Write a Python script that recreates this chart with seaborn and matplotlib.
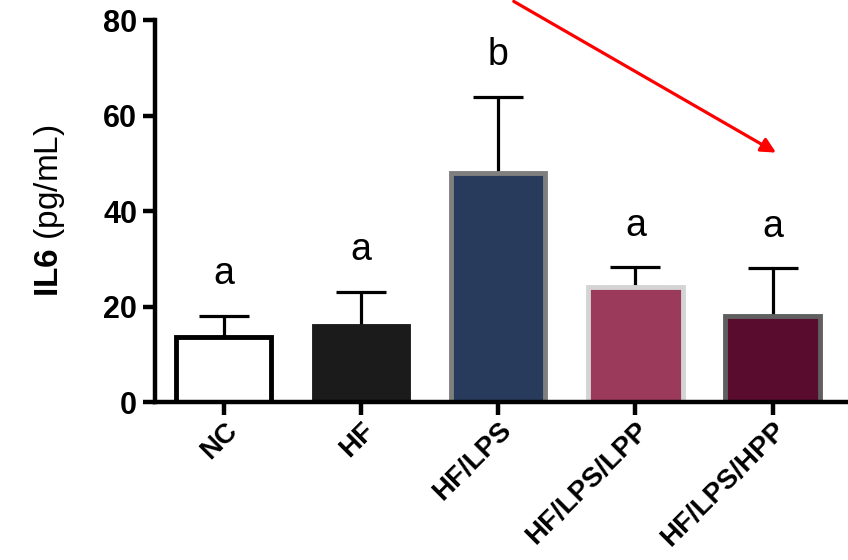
import numpy as np
import pandas as pd
import matplotlib
matplotlib.use("Agg")
import matplotlib.pyplot as plt
import seaborn as sns

groups = ["NC", "HF", "HF/LPS", "HF/LPS/LPP", "HF/LPS/HPP"]
il6_mean = [13.6, 16.0, 48.0, 24.2, 18.0]
il6_sd = [4.4, 7.0, 16.0, 4.0, 10.0]
letters = ["a", "a", "b", "a", "a"]

fill_colors = ["#ffffff", "#1b1b1b", "#293b5c", "#9c3a5b", "#590c2e"]
edge_colors = ["#000000", "#1b1b1b", "#7f7f7f", "#d4d4d4", "#5f5f5f"]

df = pd.DataFrame({"group": groups, "il6": il6_mean})

sns.set_style("white")
plt.rcParams["font.family"] = ["Liberation Sans", "DejaVu Sans"]
plt.rcParams["mathtext.fontset"] = "custom"
plt.rcParams["mathtext.rm"] = "Liberation Sans"
plt.rcParams["mathtext.bf"] = "Liberation Sans:bold"
for key in ["text.color", "axes.labelcolor", "xtick.color", "ytick.color"]:
    plt.rcParams[key] = "black"

fig = plt.figure(figsize=(8.48, 5.6), dpi=100)
ax = fig.add_axes([0.183, 0.282, 0.817, 0.682])

sns.barplot(data=df, x="group", y="il6", order=groups, width=0.69,
            errorbar=None, ax=ax)

for patch, fc, ec in zip(ax.patches, fill_colors, edge_colors):
    patch.set_facecolor(fc)
    patch.set_edgecolor(ec)
    patch.set_linewidth(3.5)
    patch.set_zorder(2)

x = np.arange(len(groups))
ax.errorbar(x, il6_mean, yerr=[np.zeros(len(groups)), il6_sd], fmt="none",
            ecolor="black", elinewidth=2.3, capsize=18, capthick=2.3, zorder=1)

for xi, m, s, lab in zip(x, il6_mean, il6_sd, letters):
    ax.text(xi, m + s + 5.0, lab, ha="center", va="bottom", fontsize=27)

ax.set_ylim(0, 80)
ax.set_xlim(-0.5, 4.55)
ax.set_yticks([0, 20, 40, 60, 80])
ax.set_yticklabels(["0", "20", "40", "60", "80"], fontsize=22, fontweight="bold")
ax.set_xticks(x)
ax.set_xticklabels(groups, fontsize=20, fontweight="bold", rotation=45,
                   ha="right", rotation_mode="anchor")
ax.set_xlabel("")
ax.set_ylabel(r"$\bf{IL6}$ (pg/mL)", fontsize=24, labelpad=26)

for side in ["top", "right"]:
    ax.spines[side].set_visible(False)
for side in ["left", "bottom"]:
    ax.spines[side].set_linewidth(3.2)
    ax.spines[side].set_color("black")
ax.tick_params(axis="both", direction="out", length=9, width=3.2,
               color="black", left=True, bottom=True, pad=4)
ax.tick_params(axis="x", pad=2)

# red arrow
ax.annotate("", xy=(0.918, 0.725), xycoords="figure fraction",
            xytext=(0.603, 1.0), textcoords="figure fraction",
            arrowprops=dict(arrowstyle="-|>", color="#ff0000", lw=2.3,
                            mutation_scale=22))

fig.savefig("out.png", dpi=100)
